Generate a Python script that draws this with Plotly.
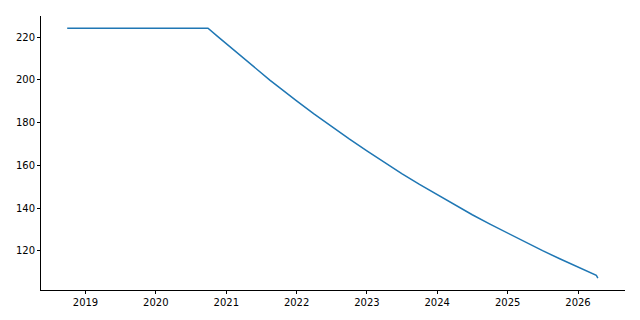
import plotly.graph_objects as go

dates = [
    "2018-09-28", "2020-09-28",
    "2020-11-15", "2021-01-01", "2021-02-15", "2021-04-01", "2021-05-15",
    "2021-07-01", "2021-08-15", "2021-10-01", "2021-11-15",
    "2022-01-01", "2022-04-01", "2022-07-01", "2022-10-01",
    "2023-01-01", "2023-04-01", "2023-07-01", "2023-10-01",
    "2024-01-01", "2024-04-01", "2024-07-01", "2024-10-01",
    "2025-01-01", "2025-04-01", "2025-07-01", "2025-10-01",
    "2026-01-01", "2026-04-06", "2026-04-14",
]
values = [
    224.2, 224.2,
    220.5, 216.9, 213.4, 209.9, 206.5,
    203.2, 199.9, 196.6, 193.4,
    190.2, 184.1, 178.1, 172.4,
    166.8, 161.4, 156.2, 151.1,
    146.2, 141.5, 136.9, 132.5,
    128.2, 124.1, 120.1, 116.2,
    112.4, 108.6, 107.3,
]
x_ticks = ["2019-01-01", "2020-01-01", "2021-01-01", "2022-01-01",
           "2023-01-01", "2024-01-01", "2025-01-01", "2026-01-01"]
x_tick_labels = ["2019", "2020", "2021", "2022", "2023", "2024", "2025", "2026"]
y_ticks = [120, 140, 160, 180, 200, 220]

fig = go.Figure(go.Scatter(
    x=dates, y=values, mode="lines",
    line=dict(color="#1f77b4", width=1.5),
))

axis_common = dict(
    showgrid=False, zeroline=False, showline=True, linecolor="black",
    linewidth=1, ticks="outside", ticklen=3, tickwidth=1, tickcolor="black",
    tickfont=dict(family="DejaVu Sans", size=10, color="black"),
)
fig.update_layout(
    width=640, height=320,
    margin=dict(l=41, r=15, t=16, b=30),
    paper_bgcolor="white", plot_bgcolor="white",
    showlegend=False,
    xaxis=dict(range=["2018-05-15", "2026-09-02"], tickvals=x_ticks,
               ticktext=x_tick_labels, **axis_common),
    yaxis=dict(range=[101.7, 229.9], tickvals=y_ticks, **axis_common),
)

fig.write_html("out.html")
